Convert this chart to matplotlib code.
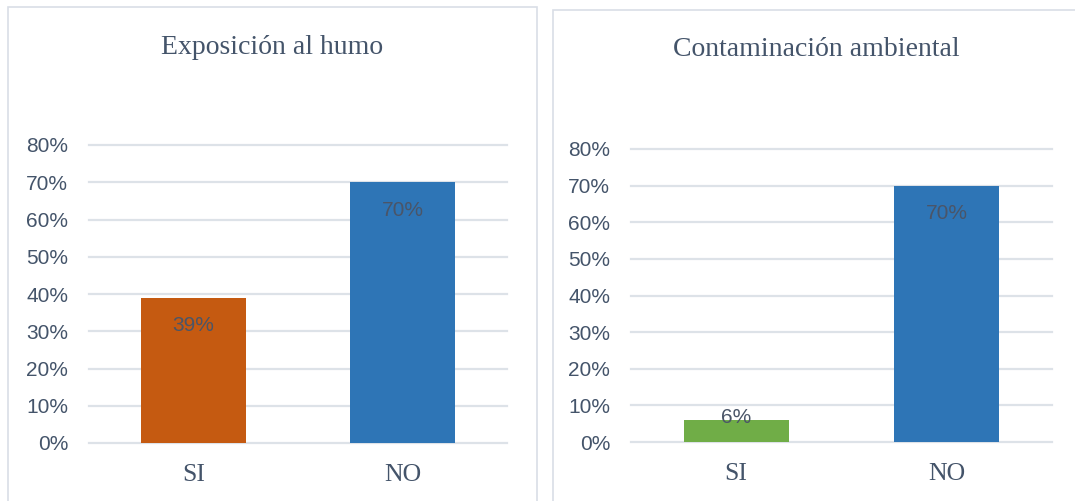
import matplotlib.pyplot as plt
from matplotlib.patches import Rectangle
from matplotlib.ticker import PercentFormatter

# data
categories = ['SI', 'NO']
humo_values = [0.39, 0.70]
contam_values = [0.06, 0.70]
titles = ['Exposición al humo', 'Contaminación ambiental']
humo_colors = ['#C55A11', '#2E75B6']
contam_colors = ['#70AD47', '#2E75B6']

text_color = '#44546A'
grid_color = '#DDE2E8'

fig = plt.figure(figsize=(10.75, 5.01), dpi=100)
W, H = 1075, 501

def px_rect(x0, y0, x1, y1):
    # pixel box (top-left origin) -> figure fraction
    return [x0 / W, 1 - y1 / H, (x1 - x0) / W, (y1 - y0) / H]

# panel borders
for x0, y0, x1, y1 in [(8, 7, 537, 520), (553, 10, 1100, 520)]:
    l, b, w, h = px_rect(x0, y0, x1, y1)
    fig.patches.append(Rectangle((l, b), w, h, transform=fig.transFigure,
                                 fill=False, edgecolor='#D9DEE6', linewidth=1.2))

def draw(ax, values, colors):
    x = range(len(categories))
    bars = ax.bar(x, values, width=0.5, color=colors, zorder=3)
    ax.set_xlim(-0.5, 1.5)
    ax.set_ylim(0, 0.8)
    ax.set_yticks([i / 10 for i in range(9)])
    ax.yaxis.set_major_formatter(PercentFormatter(1.0, decimals=0))
    ax.set_xticks(list(x))
    ax.set_xticklabels(categories, fontfamily='Liberation Serif', fontsize=18.5,
                       color=text_color)
    for lab in ax.get_yticklabels():
        lab.set_fontfamily('Liberation Sans')
        lab.set_fontsize(15)
        lab.set_color(text_color)
    ax.tick_params(axis='y', length=0, pad=15)
    ax.tick_params(axis='x', length=0, pad=15)
    for s in ax.spines.values():
        s.set_visible(False)
    for t in ax.get_yticks():
        ax.axhline(t, color=grid_color, linewidth=1.6, zorder=1, clip_on=False)
    for b, v in zip(bars, values):
        off = -20 if v >= 0.1 else 2
        ax.annotate(f'{v:.0%}', (b.get_x() + b.get_width() / 2, v),
                    xytext=(0, off), textcoords='offset points',
                    ha='center', va='center', fontsize=15,
                    fontfamily='Liberation Sans', color='#4A5568', zorder=4)

ax1 = fig.add_axes(px_rect(89, 145, 507, 443))
draw(ax1, humo_values, humo_colors)
ax2 = fig.add_axes(px_rect(631, 149, 1052, 442))
draw(ax2, contam_values, contam_colors)

fig.text(272 / W, 1 - 47 / H, titles[0], ha='center', va='center',
         fontfamily='Liberation Serif', fontsize=20, color=text_color)
fig.text(816 / W, 1 - 50 / H, titles[1], ha='center', va='center',
         fontfamily='Liberation Serif', fontsize=20, color=text_color)

fig.savefig('out.png', dpi=100)
